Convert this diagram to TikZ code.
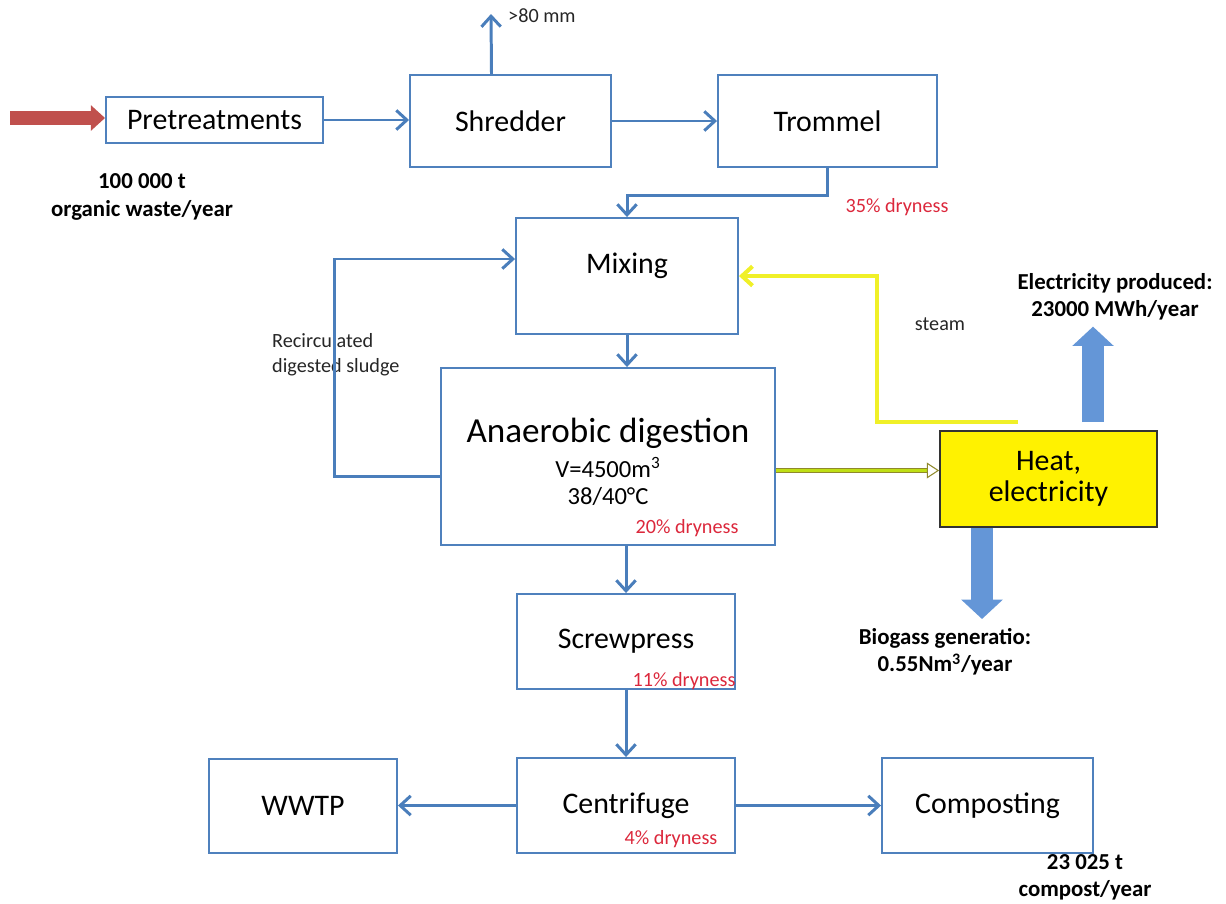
\documentclass[tikz,border=0pt]{standalone}
\usepackage{fontspec}
\setmainfont{Carlito}
\usetikzlibrary{arrows.meta,calc}

\definecolor{boxblue}{RGB}{79,129,189}
\definecolor{flowblue}{RGB}{74,126,187}
\definecolor{dryred}{RGB}{220,40,60}
\definecolor{inred}{RGB}{192,80,77}
\definecolor{steamyellow}{RGB}{240,240,40}
\definecolor{bigblue}{RGB}{100,150,215}

\begin{document}
\begin{tikzpicture}[x=0.02cm,y=-0.02cm,
  box/.style={draw=boxblue,line width=1.1pt,fill=white,font=\fontsize{17}{20}\selectfont},
  sz/.style 2 args={minimum width=#1*0.02cm,minimum height=#2*0.02cm},
  flow/.style={flowblue,line width=1.7pt,-{Straight Barb[length=6pt,width=11pt]}},
  dry/.style={text=dryred,font=\fontsize{11.5}{13}\selectfont},
  note/.style={text=black!85,font=\fontsize{11.5}{14}\selectfont},
  big/.style={align=center,font=\bfseries\fontsize{13}{15.5}\selectfont},
  bigarrow/.style={bigblue,line width=12pt,-{Triangle[width=23pt,length=11pt]}}]

\useasboundingbox (0,0) rectangle (1226,903);

\node[box,sz={217}{46}] (pre) at (214.5,120) {Pretreatments};
\node[box,sz={201}{92}] (shr) at (510.5,121) {Shredder};
\node[box,sz={219}{92}] (trom) at (827.5,121) {Trommel};

\node[box,sz={222}{116}] (mix) at (627,276) {};
\node[font=\fontsize{17}{20}\selectfont] (mixtxt) at (627,266) {Mixing};

\node[box,sz={334}{177}] (ad) at (608,456.5) {};
\node[align=center,font=\fontsize{14}{15.5}\selectfont] (adtxt) at (608,462)
  {{\fontsize{20}{24}\selectfont Anaerobic digestion}\\[4pt]V=4500m\textsuperscript{3}\\38/40°C};

\node[box,sz={218}{95}] (scr) at (626,641.5) {Screwpress};
\node[box,sz={218}{95}] (cen) at (626,805.5) {Centrifuge};
\node[box,sz={188}{94}] (wwtp) at (303,806) {WWTP};
\node[box,sz={211}{95}] (comp) at (987.5,805.5) {Composting};

\node[draw=black!80,fill=yellow,line width=1pt,sz={217}{96},align=center,
  font=\fontsize{17}{18}\selectfont] (heat) at (1048.5,479) {Heat,\\electricity};

% labels
\node[big] (waste) at (142,197) {100 000 t\\organic waste/year};
\node[note,anchor=west] (cut) at (502,16) {>80 mm};
\node[dry] (dry35) at (897,207) {35\% dryness};
\node[dry] (dry20) at (687,528) {20\% dryness};
\node[dry] (dry11) at (684,681) {11\% dryness};
\node[dry] (dry4) at (671,839) {4\% dryness};
\node[note,align=left,anchor=west] (recirc) at (266,355) {Recirculated\\digested sludge};
\node[note] (steam) at (940,324) {steam};
\node[big] (elec) at (1115,297) {Electricity produced:\\23000 MWh/year};
\node[big] (biogas) at (945,652) {Biogass generatio:\\0.55Nm\textsuperscript{3}/year};
\node[big] (compost) at (1085,877) {23 025 t\\compost/year};

\coordinate (win) at (10,118);
\coordinate (over) at (491,14);
\coordinate (s0) at (1018,422);
\coordinate (eup) at (1093,422);
\coordinate (bdown) at (982,619);

% main line
\draw[inred,line width=7.5pt,-{Triangle[width=14pt,length=8pt]}] (win) -- (pre.west |- win);
\draw[flow] (pre.east) -- (pre.east -| shr.west);
\draw[flow] ($(shr.north)+(-19,0)$) -- (over);
\draw[flow] (shr.east) -- (trom.west);
\draw[flow] (trom.south) -- ++(0,28) -| (mix.north);
\draw[flow] (mix.south) -- (mix.south |- ad.north);
\draw[flow] ($(ad.west)+(0,20)$) -- ++(-106,0) |- ($(mix.west)+(0,-17)$);
\draw[flow] (scr.north |- ad.south) -- (scr.north);
\draw[flow] (scr.south) -- (cen.north);
\draw[flow] (cen.west) -- (cen.west -| wwtp.east);
\draw[flow] (cen.east) -- (cen.east -| comp.west);

% energy
\draw[draw=olive!70!gray,double=yellow!75!green,double distance=1.6pt,line width=0.6pt,
  -{Triangle[open,length=7pt,width=9pt]}] ($(ad.east)+(0,14)$) coordinate (g0) -- (g0 -| heat.west);
\draw[steamyellow,line width=2.3pt,-{Straight Barb[length=6pt,width=11pt]}] (s0) -- (877,422) |- (mix.east);
\draw[bigarrow] (eup) -- (eup |- elec.south);
\draw[bigarrow] (heat.south -| bdown) -- (bdown);

\end{tikzpicture}
\end{document}
